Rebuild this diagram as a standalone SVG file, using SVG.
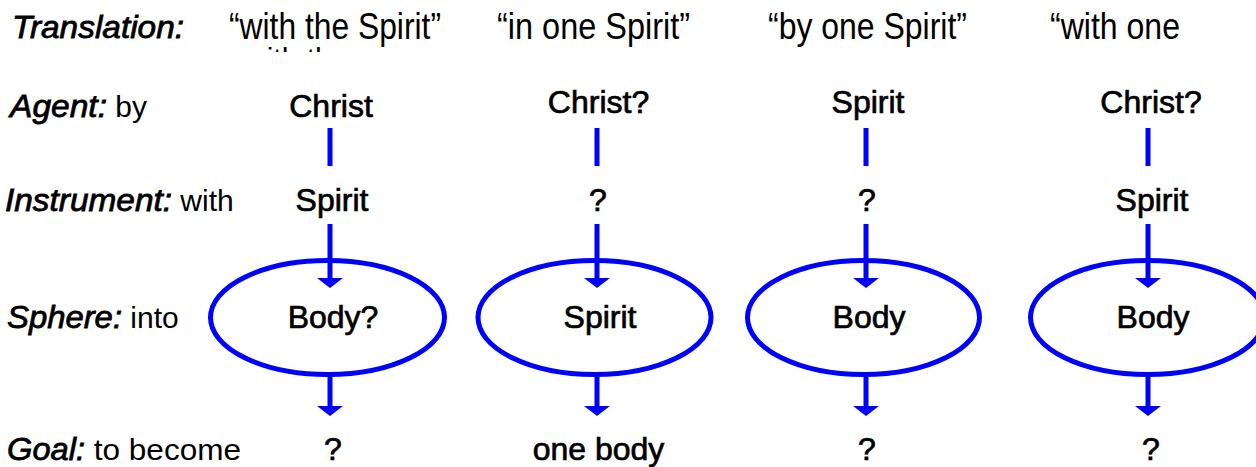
<svg xmlns="http://www.w3.org/2000/svg" width="1256" height="467" viewBox="0 0 1256 467">
<style>
text{font-family:"Liberation Sans",Arial,sans-serif;fill:#000}
.lab{font-size:32px;font-style:italic;stroke:#000;stroke-width:0.8}
.reg{font-size:30px;font-style:normal;stroke:none}
.q{font-size:36px}
.n{font-size:32px;text-anchor:middle;stroke:#000;stroke-width:0.7}
.ell{fill:none;stroke:#0000ff;stroke-width:5}
.ln{stroke:#0000ff;stroke-width:5;fill:none}
.ah{fill:#0000ff}
</style>
<defs>
<clipPath id="clipFrag"><rect x="0" y="0" width="1256" height="52"/></clipPath>
</defs>
<rect width="1256" height="467" fill="#fff"/>
<g id="row-labels">
<text x="12" y="38" class="lab" textLength="172" lengthAdjust="spacingAndGlyphs">Translation:</text>
<text x="10" y="117" class="lab"><tspan textLength="97" lengthAdjust="spacingAndGlyphs">Agent:</tspan><tspan class="reg"> by</tspan></text>
<text x="5" y="211" class="lab"><tspan textLength="167" lengthAdjust="spacingAndGlyphs">Instrument:</tspan><tspan class="reg"> with</tspan></text>
<text x="7" y="328" class="lab"><tspan textLength="115" lengthAdjust="spacingAndGlyphs">Sphere:</tspan><tspan class="reg"> into</tspan></text>
<text x="7" y="460" class="lab"><tspan textLength="78" lengthAdjust="spacingAndGlyphs">Goal:</tspan><tspan class="reg" textLength="156" lengthAdjust="spacingAndGlyphs"> to become</tspan></text>
</g>
<g id="translations">
<text x="229" y="39" class="q" textLength="212" lengthAdjust="spacingAndGlyphs">“with the Spirit”</text>
<text x="245" y="69" class="reg" clip-path="url(#clipFrag)">with the</text>
<text x="497" y="39" class="q" textLength="193" lengthAdjust="spacingAndGlyphs">“in one Spirit”</text>
<text x="768" y="39" class="q" textLength="199" lengthAdjust="spacingAndGlyphs">“by one Spirit”</text>
<text x="1050" y="39" class="q" textLength="130" lengthAdjust="spacingAndGlyphs">“with one</text>
</g>
<g id="connectors">
<line class="ln" x1="330" y1="128" x2="330" y2="166"/>
<line class="ln" x1="597" y1="128" x2="597" y2="166"/>
<line class="ln" x1="866" y1="128" x2="866" y2="166"/>
<line class="ln" x1="1148" y1="128" x2="1148" y2="166"/>
<line class="ln" x1="330" y1="224" x2="330" y2="280"/>
<line class="ln" x1="597" y1="224" x2="597" y2="280"/>
<line class="ln" x1="866" y1="224" x2="866" y2="280"/>
<line class="ln" x1="1148" y1="224" x2="1148" y2="280"/>
<path class="ah" d="M317 278 L343 278 L330 288 Z"/>
<path class="ah" d="M584 278 L610 278 L597 288 Z"/>
<path class="ah" d="M853 278 L879 278 L866 288 Z"/>
<path class="ah" d="M1135 278 L1161 278 L1148 288 Z"/>
<line class="ln" x1="330" y1="374" x2="330" y2="408"/>
<line class="ln" x1="597" y1="374" x2="597" y2="408"/>
<line class="ln" x1="866" y1="374" x2="866" y2="408"/>
<line class="ln" x1="1148" y1="374" x2="1148" y2="408"/>
<path class="ah" d="M317 406 L343 406 L330 416 Z"/>
<path class="ah" d="M584 406 L610 406 L597 416 Z"/>
<path class="ah" d="M853 406 L879 406 L866 416 Z"/>
<path class="ah" d="M1135 406 L1161 406 L1148 416 Z"/>
</g>
<g id="col1">
<text x="331" y="117" class="n">Christ</text>
<text x="332" y="211" class="n">Spirit</text>
<g id="sphere1"><ellipse class="ell" cx="327.5" cy="317.5" rx="117" ry="57"/><text x="333" y="328" class="n">Body?</text></g>
<text x="333" y="460" class="n">?</text>
</g>
<g id="col2">
<text x="598.5" y="113" class="n">Christ?</text>
<text x="598" y="211" class="n">?</text>
<g id="sphere2"><ellipse class="ell" cx="594.5" cy="317.5" rx="116.5" ry="57"/><text x="600" y="328" class="n">Spirit</text></g>
<text x="598.5" y="460" class="n">one body</text>
</g>
<g id="col3">
<text x="868" y="113" class="n">Spirit</text>
<text x="867" y="211" class="n">?</text>
<g id="sphere3"><ellipse class="ell" cx="863.5" cy="317.5" rx="116" ry="57"/><text x="869" y="328" class="n">Body</text></g>
<text x="867" y="460" class="n">?</text>
</g>
<g id="col4">
<text x="1151" y="113" class="n">Christ?</text>
<text x="1152" y="211" class="n">Spirit</text>
<g id="sphere4"><ellipse class="ell" cx="1147.5" cy="317.5" rx="117" ry="57"/><text x="1153" y="328" class="n">Body</text></g>
<text x="1151" y="460" class="n">?</text>
</g>
</svg>
